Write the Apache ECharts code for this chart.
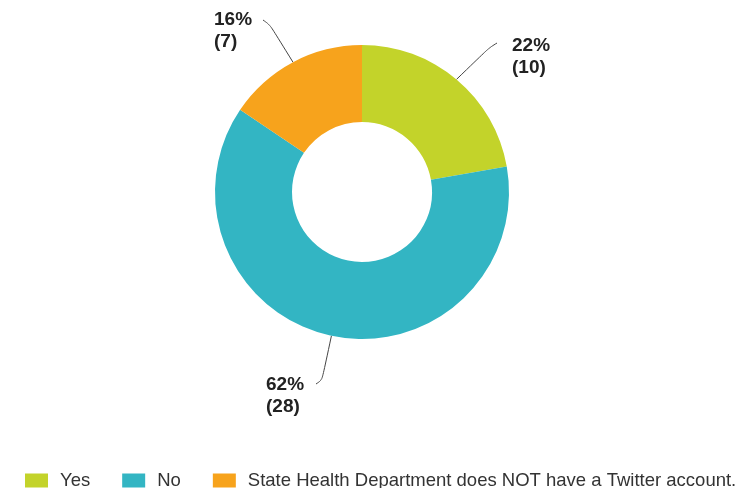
<!DOCTYPE html>
<html>
<head>
<meta charset="utf-8">
<script src="https://cdn.jsdelivr.net/npm/echarts@6/dist/echarts.min.js"></script>
<style>
  html, body { margin: 0; padding: 0; background: #fff; }
  #chart { width: 742px; height: 488px; }
</style>
</head>
<body>
<div id="chart"></div>
<script>
// Survey answers: does the State Health Department use Twitter?
const categories = ['Yes', 'No', 'State Health Department does NOT have a Twitter account.'];
const counts = [10, 28, 7];
const colors = ['#c3d32a', '#33b5c3', '#f7a31c'];

// Where each outside label sits (left/top of the text block),
// and where its leader line ends relative to that spot
const labelSpots = [
  { x: 512, y: 35 },
  { x: 266, y: 374 },
  { x: 214, y: 9 }
];
const lineEnds = [
  { dx: -15, dy: 8, bx: -8, by: 5 },
  { dx: 50, dy: 10, bx: 6, by: -4 },
  { dx: 49, dy: 11, bx: 7, by: 5 }
];

const total = counts.reduce((a, b) => a + b, 0);
const FONT = '"Liberation Sans", Arial, sans-serif';

const chart = echarts.init(document.getElementById('chart'), null, { renderer: 'canvas' });

chart.setOption({
  animation: false,
  color: colors,
  legend: {
    data: categories,
    left: 20,
    top: 466,
    icon: 'rect',
    itemWidth: 23,
    itemHeight: 14,
    itemGap: 32,
    textStyle: { fontFamily: FONT, fontSize: 18.5, color: '#333', padding: [0, 0, 0, 7] }
  },
  series: [{
    type: 'pie',
    center: [362, 192],
    radius: [70, 147],
    startAngle: 90,
    clockwise: true,
    avoidLabelOverlap: false,
    data: categories.map((name, i) => ({ name, value: counts[i] })),
    label: {
      show: true,
      position: 'outside',
      formatter: p => Math.round(p.value / total * 100) + '%\n(' + p.value + ')',
      fontFamily: FONT,
      fontSize: 19,
      fontWeight: 'bold',
      lineHeight: 22,
      color: '#222',
      align: 'left'
    },
    labelLine: {
      show: true,
      smooth: 0.35,
      length: 15,
      length2: 10,
      lineStyle: { color: '#444', width: 1 }
    },
    labelLayout: p => {
      const s = labelSpots[p.dataIndex];
      const e = lineEnds[p.dataIndex];
      const start = p.labelLinePoints[0];
      const end = [s.x + e.dx, s.y + e.dy];
      const bend = [end[0] + e.bx, end[1] + e.by];
      return {
        x: s.x,
        y: s.y,
        align: 'left',
        verticalAlign: 'top',
        labelLinePoints: [start, bend, end]
      };
    },
    emphasis: { disabled: true }
  }]
});
</script>
</body>
</html>
